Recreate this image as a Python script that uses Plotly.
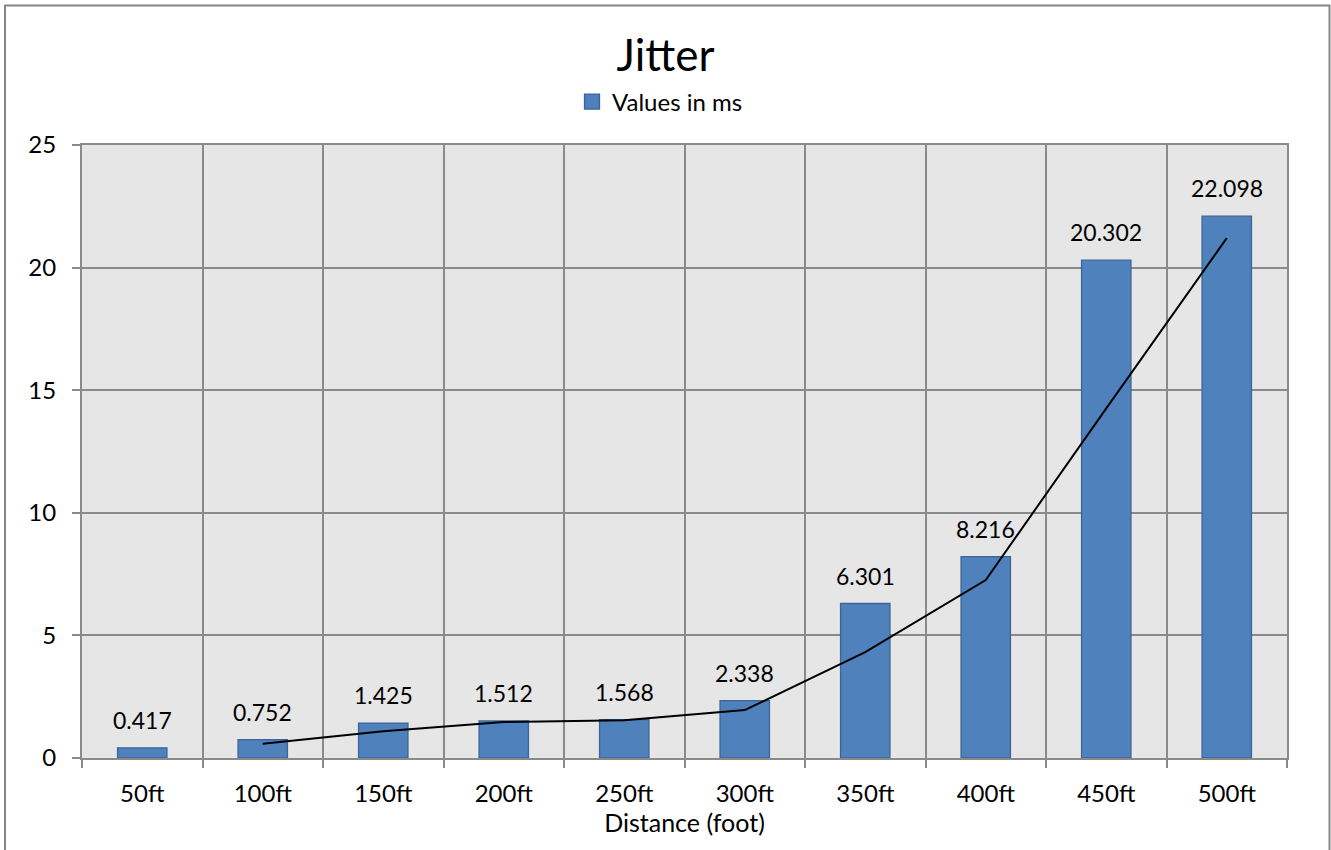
import plotly.graph_objects as go

# Jitter measurements per distance
distances = ["50ft", "100ft", "150ft", "200ft", "250ft",
             "300ft", "350ft", "400ft", "450ft", "500ft"]
jitter_ms = [0.417, 0.752, 1.425, 1.512, 1.568,
             2.338, 6.301, 8.216, 20.302, 22.098]

# 2-period moving average trendline
trend_x = distances[1:]
trend_y = [(a + b) / 2 for a, b in zip(jitter_ms[:-1], jitter_ms[1:])]

FONT = "Lato"
GRID = "#8A8A8A"
BAR = "#4F81BD"
BAR_EDGE = "#3A6596"

fig = go.Figure()
fig.add_trace(go.Bar(
    x=distances, y=jitter_ms, name="Values in ms", showlegend=False,
    marker=dict(color=BAR, line=dict(color=BAR_EDGE, width=1.3)),
))
# legend entry with a larger square swatch
fig.add_trace(go.Scatter(
    x=[None], y=[None], mode="markers", name="Values in ms",
    marker=dict(symbol="square", size=15, color=BAR,
                line=dict(color=BAR_EDGE, width=1.3)),
))
fig.add_trace(go.Scatter(
    x=trend_x, y=trend_y, mode="lines", showlegend=False,
    line=dict(color="#000000", width=2), hoverinfo="skip",
))

# value labels above each bar
for d, v in zip(distances, jitter_ms):
    fig.add_annotation(x=d, y=v, text=f"{v:.3f}", showarrow=False,
                       yanchor="bottom", yshift=12,
                       font=dict(family=FONT, size=23, color="#000000"))

# outer chart border
pw, ph = 1331 - 82 - 44, 850 - 145 - 92
fig.add_shape(type="rect", xref="paper", yref="paper",
              x0=(5 - 82) / pw, x1=(1329.5 - 82) / pw,
              y0=(758 - 860) / ph, y1=(758 - 5.5) / ph,
              line=dict(color="#868686", width=2), layer="below")

fig.update_layout(
    width=1331, height=850,
    margin=dict(l=82, r=44, t=145, b=92, autoexpand=False),
    paper_bgcolor="#FFFFFF", plot_bgcolor="#E6E6E6",
    font=dict(family=FONT, size=24, color="#000000"),
    title=dict(text="Jitter", x=0.5, xref="container", xanchor="center",
               y=1 - 56 / 850, yanchor="middle",
               font=dict(family=FONT, size=44, color="#000000")),
    legend=dict(orientation="h", x=(660 - 82) / pw, xanchor="center",
                y=(758 - 102) / ph, yanchor="middle", itemwidth=30,
                font=dict(family=FONT, size=24), bgcolor="rgba(0,0,0,0)"),
    bargap=0.59,
    showlegend=True,
)
fig.update_xaxes(
    type="category", tickson="boundaries", showgrid=True, gridcolor=GRID,
    gridwidth=1.5, showline=True, linecolor=GRID, linewidth=2, mirror=True,
    ticks="outside", ticklen=8, tickcolor=GRID, tickwidth=2, tickangle=0,
    tickfont=dict(family=FONT, size=24), automargin=False, ticklabelstandoff=13,
    title=dict(text="Distance (foot)", font=dict(family=FONT, size=25), standoff=0),
)
fig.update_yaxes(
    range=[0, 25], dtick=5, showgrid=True, gridcolor=GRID, gridwidth=1.5,
    showline=True, linecolor=GRID, linewidth=2, mirror=True,
    ticks="outside", ticklen=8, tickcolor=GRID, tickwidth=2,
    tickfont=dict(family=FONT, size=24), zeroline=False, automargin=False,
    ticklabelstandoff=11,
)

fig.write_html("out.html")
